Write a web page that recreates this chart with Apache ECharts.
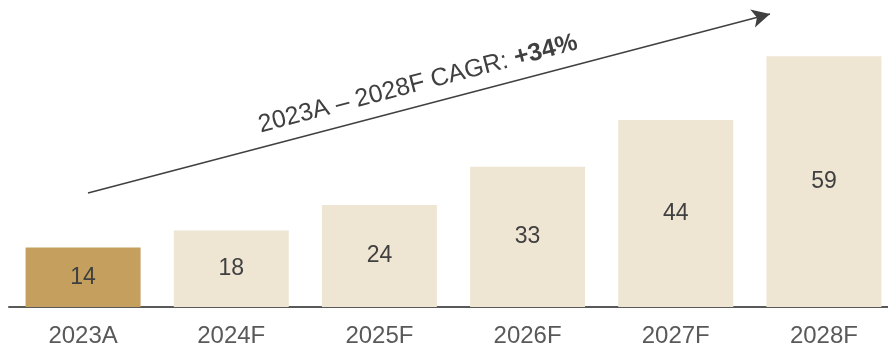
<!DOCTYPE html>
<html><head><meta charset="utf-8">
<script src="https://cdn.jsdelivr.net/npm/echarts@6/dist/echarts.min.js"></script>
<style>html,body{margin:0;padding:0;background:#fff;overflow:hidden}#c{width:900px;height:349px}</style>
</head><body><div id="c"></div>
<script>
const categories = ['2023A','2024F','2025F','2026F','2027F','2028F'];
const values = [14, 18, 24, 33, 44, 59];
const cagrText = '2023A – 2028F CAGR: ';
const cagrValue = '+34%';

const chart = echarts.init(document.getElementById('c'), null, {renderer:'canvas'});
const FONT = '"Liberation Sans", Arial, sans-serif';
chart.setOption({
  animation: false,
  grid: {left: 9, width: 889, top: 1, bottom: 42, outerBoundsMode: 'none', containLabel: false},
  xAxis: {
    type: 'category', data: categories,
    axisLine: {show: true, lineStyle: {color: '#595959', width: 2}},
    axisTick: {show: false},
    axisLabel: {color: '#595959', fontSize: 24, fontFamily: FONT, margin: 17}
  },
  yAxis: {type: 'value', min: 0, max: 72, show: false, splitLine: {show: false}},
  series: [{
    type: 'bar', barWidth: 115,
    data: values.map((v, i) => ({value: v, itemStyle: {color: i === 0 ? '#C49F5E' : '#EFE5D3'}})),
    label: {show: true, position: 'inside', color: '#404040', fontSize: 23, fontFamily: FONT},
    markLine: {
      silent: true, symbol: ['none', 'arrow'], symbolSize: [14, 18],
      label: {show: false},
      lineStyle: {color: '#404040', width: 1.5, type: 'solid'},
      data: [[{x: 88, y: 193}, {x: 770, y: 14}]]
    }
  }],
  graphic: [{
    type: 'text', x: 418, y: 84, rotation: Math.atan2(179, 682),
    style: {
      text: cagrText + '{b|' + cagrValue + '}',
      fill: '#404040', fontSize: 25, fontFamily: FONT,
      align: 'center', verticalAlign: 'middle',
      rich: {b: {fontWeight: 'bold', fontSize: 25, fontFamily: FONT, fill: '#404040'}}
    }
  }]
});
</script></body></html>
